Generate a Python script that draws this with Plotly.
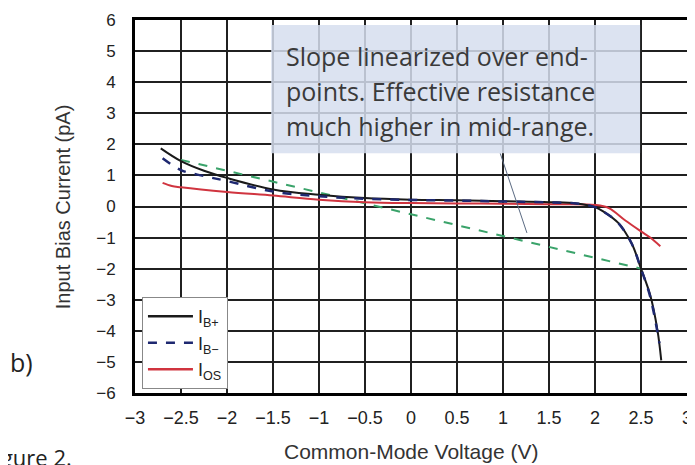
import plotly.graph_objects as go

# ---- data ----
x_ibp = [-2.72, -2.5, -2.25, -2.0, -1.5, -1.0, -0.5, 0.0, 0.5, 1.0, 1.5, 1.8, 2.0, 2.1, 2.25, 2.4, 2.5, 2.6, 2.68, 2.72]
ib_plus = [1.87, 1.46, 1.15, 0.92, 0.55, 0.38, 0.27, 0.22, 0.2, 0.17, 0.14, 0.1, -0.02, -0.18, -0.52, -1.2, -2.0, -2.85, -4.0, -4.95]

x_ibm = [-2.7, -2.5, -2.25, -2.0, -1.5, -1.0, -0.5, 0.0, 0.5, 1.0, 1.5, 1.8, 2.0, 2.1, 2.25, 2.4, 2.5, 2.6, 2.7]
ib_minus = [1.55, 1.17, 0.98, 0.82, 0.48, 0.33, 0.25, 0.21, 0.19, 0.16, 0.13, 0.1, -0.02, -0.18, -0.52, -1.2, -2.0, -2.9, -4.4]

x_ios = [-2.7, -2.6, -2.5, -2.0, -1.5, -1.0, -0.5, 0.0, 0.5, 1.0, 1.5, 2.0, 2.15, 2.33, 2.5, 2.6, 2.71]
i_os = [0.76, 0.66, 0.62, 0.47, 0.35, 0.22, 0.14, 0.11, 0.1, 0.09, 0.07, 0.05, -0.05, -0.45, -0.8, -1.0, -1.28]

x_lin = [-2.5, 2.5]
y_lin = [1.5, -2.0]

x_ticks = [-3, -2.5, -2, -1.5, -1, -0.5, 0, 0.5, 1, 1.5, 2, 2.5, 3]
y_ticks = [-6, -5, -4, -3, -2, -1, 0, 1, 2, 3, 4, 5, 6]

note_lines = ["Slope linearized over end-", "points. Effective resistance", "much higher in mid-range."]

fig = go.Figure()
fig.add_trace(go.Scatter(x=x_lin, y=y_lin, mode="lines", showlegend=False,
                         line=dict(color="#3aa36a", width=2, dash="dash")))
fig.add_trace(go.Scatter(x=x_ios, y=i_os, mode="lines", showlegend=False,
                         line=dict(color="#d0343f", width=2, shape="spline")))
fig.add_trace(go.Scatter(x=x_ibp, y=ib_plus, mode="lines", showlegend=False,
                         line=dict(color="#1a1a1a", width=2, shape="spline")))
fig.add_trace(go.Scatter(x=x_ibm, y=ib_minus, mode="lines", showlegend=False,
                         line=dict(color="#1e2870", width=2.5, dash="dash", shape="spline")))
# legend-only entries in the reference order
for name, col, dash in [("I<sub>B+</sub>", "#1a1a1a", "solid"),
                        ("I<sub>B−</sub>", "#1e2870", "dash"),
                        ("I<sub>OS</sub>", "#d0343f", "solid")]:
    fig.add_trace(go.Scatter(x=[None], y=[None], mode="lines", name=name,
                             line=dict(color=col, width=2.5, dash=dash)))

# pointer line from note box to the linearized slope
fig.add_trace(go.Scatter(x=[0.97, 1.26], y=[1.71, -0.85], mode="lines", showlegend=False,
                         line=dict(color="#5a6a82", width=1)))

fig.add_shape(type="rect", xref="x", yref="y", x0=-1.52, x1=2.49, y0=1.71, y1=5.84,
              fillcolor="rgba(214,222,238,0.85)", line=dict(width=0), layer="above")

note_y = [4.85, 3.72, 2.6]
for t, yy in zip(note_lines, note_y):
    fig.add_annotation(x=-1.38, y=yy, xref="x", yref="y", text=t, showarrow=False,
                       xanchor="left", yanchor="middle",
                       font=dict(family="Open Sans, Lato, sans-serif", size=25, color="#3a3a3a"))

axis_common = dict(showgrid=True, gridcolor="#202020", gridwidth=2,
                   showline=True, linecolor="black", linewidth=3, mirror=True,
                   zeroline=False, ticks="", ticklabeloverflow="allow")

fig.update_xaxes(range=[-3, 3], tickvals=x_ticks,
                 ticktext=["−3", "−2.5", "−2", "−1.5", "−1", "−0.5", "0", "0.5", "1", "1.5", "2", "2.5", "3"],
                 ticklabelstandoff=6,
                 tickfont=dict(family="Arial, Liberation Sans, sans-serif", size=18, color="#222"),
                 **axis_common)
fig.update_yaxes(range=[-6, 6], tickvals=y_ticks,
                 ticktext=["−6", "−5", "−4", "−3", "−2", "−1", "0", "1", "2", "3", "4", "5", "6"],
                 ticklabelstandoff=13,
                 tickfont=dict(family="Arial, Liberation Sans, sans-serif", size=17, color="#222"),
                 **axis_common)

fig.add_annotation(x=0.5, y=-0.156, xref="paper", yref="paper", showarrow=False,
                   xanchor="center", yanchor="middle",
                   text="Common-Mode Voltage (V)",
                   font=dict(family="Arial, Liberation Sans, sans-serif", size=21, color="#333"))
fig.add_annotation(x=-0.131, y=0.5, xref="paper", yref="paper", showarrow=False,
                   xanchor="center", yanchor="middle",
                   text="Input Bias Current (pA)", textangle=-90,
                   font=dict(family="Arial, Liberation Sans, sans-serif", size=20, color="#333"))
fig.add_annotation(x=-0.205, y=0.082, xref="paper", yref="paper", showarrow=False,
                   xanchor="center", yanchor="middle",
                   text="b)", font=dict(family="Open Sans, Lato, sans-serif", size=25, color="#222"))
fig.add_annotation(x=-0.278, y=-0.172, xref="paper", yref="paper", showarrow=False,
                   xanchor="left", yanchor="middle", text="Figure 2.",
                   font=dict(family="Open Sans, Lato, sans-serif", size=22, color="#222"))

fig.update_layout(
    width=687, height=457,
    margin=dict(l=127, r=3, t=7, b=72),
    paper_bgcolor="white", plot_bgcolor="white",
    legend=dict(x=0.0126, y=0.257, xanchor="left", yanchor="top",
                bgcolor="white", bordercolor="#888", borderwidth=1,
                font=dict(family="Arial, Liberation Sans, sans-serif", size=18, color="#222"),
                itemwidth=45, tracegroupgap=0),
)

fig.write_html("out.html")
